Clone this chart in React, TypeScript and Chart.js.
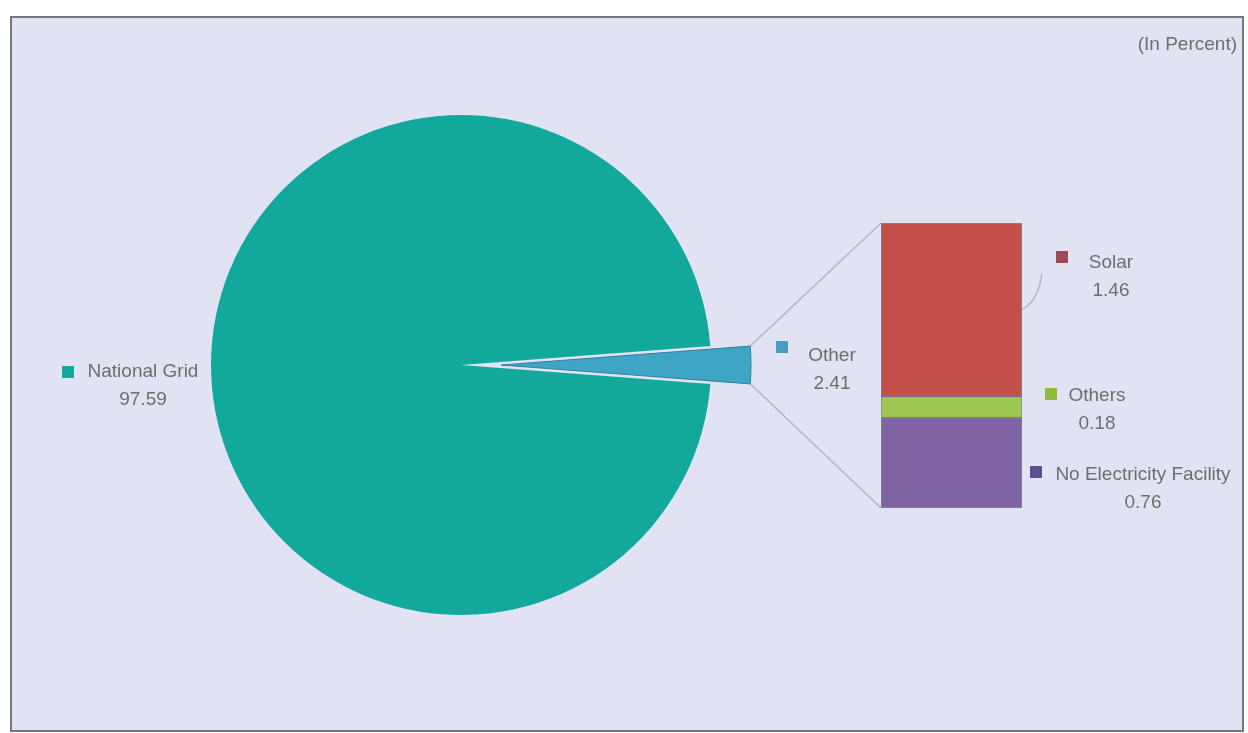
import React, { useEffect, useRef } from 'react';
import { Chart, registerables } from 'chart.js';

Chart.register(...registerables);

// ---- data ----
const pieLabels = ['National Grid', 'Other'];
const pieValues = [97.59, 2.41];
const pieColors = ['#12a89c', '#3fa5c4'];
const barLabels = ['No Electricity Facility', 'Others', 'Solar'];
const barValues = [0.76, 0.18, 1.46];
const barColors = ['#7f63a3', '#9cc552', '#c24f4a'];
const unitNote = '(In Percent)';

// ---- layout ----
const W = 1248;
const H = 733;
const PIE = { cx: 461, cy: 365, r: 250, explode: 40, half: 300 };
const BAR = { left: 881, top: 223, width: 141, height: 285 };
const FONT = "'Liberation Sans', Arial, sans-serif";
const TEXT_COLOR = '#6e6e6e';
const LINE_COLOR = '#b3b7c4';

const labelLayout: Record<string, { mx: number; my: number; tx: number; ty: number; color: string }> = {
  'National Grid': { mx: 62, my: 366, tx: 143, ty: 371, color: pieColors[0] },
  Other: { mx: 776, my: 341, tx: 832, ty: 355, color: '#4a9cc0' },
  Solar: { mx: 1056, my: 251, tx: 1111, ty: 262, color: '#9c4a5c' },
  Others: { mx: 1045, my: 388, tx: 1097, ty: 395, color: '#8fba3c' },
  'No Electricity Facility': { mx: 1030, my: 466, tx: 1143, ty: 474, color: '#5e4f8e' },
};

function pieRotation() {
  const total = pieValues.reduce((a, b) => a + b, 0);
  const mid = (360 * (pieValues[0] + pieValues[1] / 2)) / total;
  return 90 - mid;
}

function piePadding(cx: number) {
  return {
    left: cx - PIE.half,
    right: W - cx - PIE.half,
    top: PIE.cy - PIE.half,
    bottom: H - PIE.cy - PIE.half,
  };
}

export default function App() {
  const baseRef = useRef<HTMLCanvasElement | null>(null);
  const overRef = useRef<HTMLCanvasElement | null>(null);
  const barCanvasRef = useRef<HTMLCanvasElement | null>(null);

  useEffect(() => {
    const barChart = new Chart(barCanvasRef.current as HTMLCanvasElement, {
      type: 'bar',
      data: {
        labels: ['Other'],
        datasets: barLabels.map((l, i) => ({
          label: l,
          data: [barValues[i]],
          backgroundColor: barColors[i],
          borderColor: 'rgba(60,55,75,0.55)',
          borderWidth: 1,
          borderSkipped: false,
          categoryPercentage: 1,
          barPercentage: 1,
        })),
      },
      options: {
        responsive: false,
        animation: false,
        layout: { padding: 0 },
        plugins: { legend: { display: false }, tooltip: { enabled: false } },
        scales: {
          x: { display: false, stacked: true },
          y: {
            display: false,
            stacked: true,
            min: 0,
            max: barValues.reduce((a, b) => a + b, 0),
          },
        },
      },
    });

    const rotation = pieRotation();

    const baseChart = new Chart(baseRef.current as HTMLCanvasElement, {
      type: 'pie',
      data: {
        labels: pieLabels,
        datasets: [
          {
            data: pieValues,
            backgroundColor: [pieColors[0], 'rgba(0,0,0,0)'],
            borderWidth: 0,
            radius: PIE.r,
          } as any,
        ],
      },
      options: {
        responsive: false,
        animation: false,
        rotation,
        layout: { padding: piePadding(PIE.cx) },
        plugins: { legend: { display: false }, tooltip: { enabled: false } },
      },
    });

    const connectorPlugin = {
      id: 'connectors',
      afterDatasetsDraw(chart: any) {
        const arc = chart.getDatasetMeta(0).data[1];
        if (!arc) return;
        const { x, y, startAngle, endAngle, outerRadius } = arc.getProps(
          ['x', 'y', 'startAngle', 'endAngle', 'outerRadius'],
          true
        );
        const p1 = [x + outerRadius * Math.cos(startAngle), y + outerRadius * Math.sin(startAngle)];
        const p2 = [x + outerRadius * Math.cos(endAngle), y + outerRadius * Math.sin(endAngle)];
        const els = barLabels.map((_, i) => barChart.getDatasetMeta(i).data[0] as any);
        const topEl = els[els.length - 1];
        const botEl = els[0];
        const left = BAR.left + topEl.x - topEl.width / 2;
        const top = BAR.top + topEl.y;
        const bottom = BAR.top + botEl.base;
        const ctx = chart.ctx as CanvasRenderingContext2D;
        ctx.save();
        ctx.strokeStyle = LINE_COLOR;
        ctx.lineWidth = 1.5;
        ctx.beginPath();
        ctx.moveTo(p1[0], p1[1]);
        ctx.lineTo(left, top);
        ctx.moveTo(p2[0], p2[1]);
        ctx.lineTo(left, bottom);
        // solar leader
        const solar = els[2];
        const right = BAR.left + solar.x + solar.width / 2;
        const midY = BAR.top + (solar.y + solar.base) / 2;
        ctx.moveTo(right, midY);
        ctx.quadraticCurveTo(right + 16, midY - 8, right + 20, midY - 36);
        ctx.stroke();
        ctx.restore();
      },
    };

    const overChart = new Chart(overRef.current as HTMLCanvasElement, {
      type: 'pie',
      data: {
        labels: pieLabels,
        datasets: [
          {
            data: pieValues,
            backgroundColor: ['rgba(0,0,0,0)', pieColors[1]],
            borderColor: ['rgba(0,0,0,0)', '#2f7f9c'],
            borderWidth: [0, 1],
            radius: PIE.r,
          } as any,
        ],
      },
      options: {
        responsive: false,
        animation: false,
        rotation,
        layout: { padding: piePadding(PIE.cx + PIE.explode) },
        plugins: { legend: { display: false }, tooltip: { enabled: false } },
      },
      plugins: [connectorPlugin as any],
    });

    return () => {
      overChart.destroy();
      baseChart.destroy();
      barChart.destroy();
    };
  }, []);

  const allLabels = [
    { name: pieLabels[0], value: pieValues[0] },
    { name: pieLabels[1], value: pieValues[1] },
    { name: barLabels[2], value: barValues[2] },
    { name: barLabels[1], value: barValues[1] },
    { name: barLabels[0], value: barValues[0] },
  ];

  return (
    <div
      style={{
        position: 'absolute',
        left: 0,
        top: 0,
        width: W,
        height: H,
        background: '#ffffff',
        fontFamily: FONT,
        overflow: 'hidden',
      }}
    >
      <div
        style={{
          position: 'absolute',
          left: 10,
          top: 16,
          width: 1234,
          height: 716,
          boxSizing: 'border-box',
          border: '2px solid #737880',
          background: '#e1e3f3',
        }}
      />
      <canvas ref={baseRef} width={W} height={H} style={{ position: 'absolute', left: 0, top: 0 }} />
      <canvas ref={overRef} width={W} height={H} style={{ position: 'absolute', left: 0, top: 0 }} />
      <canvas
        ref={barCanvasRef}
        width={BAR.width}
        height={BAR.height}
        style={{ position: 'absolute', left: BAR.left, top: BAR.top }}
      />
      <div
        style={{
          position: 'absolute',
          right: W - 1237,
          top: 33,
          fontSize: 19,
          color: TEXT_COLOR,
          whiteSpace: 'nowrap',
        }}
      >
        {unitNote}
      </div>
      {allLabels.map((l) => {
        const lay = labelLayout[l.name];
        return (
          <React.Fragment key={l.name}>
            <div
              style={{
                position: 'absolute',
                left: lay.mx,
                top: lay.my,
                width: 12,
                height: 12,
                background: lay.color,
              }}
            />
            <div
              style={{
                position: 'absolute',
                left: lay.tx,
                top: lay.ty - 14,
                transform: 'translateX(-50%)',
                textAlign: 'center',
                lineHeight: '28px',
                fontSize: 19,
                color: TEXT_COLOR,
                whiteSpace: 'nowrap',
              }}
            >
              <div>{l.name}</div>
              <div>{l.value.toFixed(2)}</div>
            </div>
          </React.Fragment>
        );
      })}
    </div>
  );
}
